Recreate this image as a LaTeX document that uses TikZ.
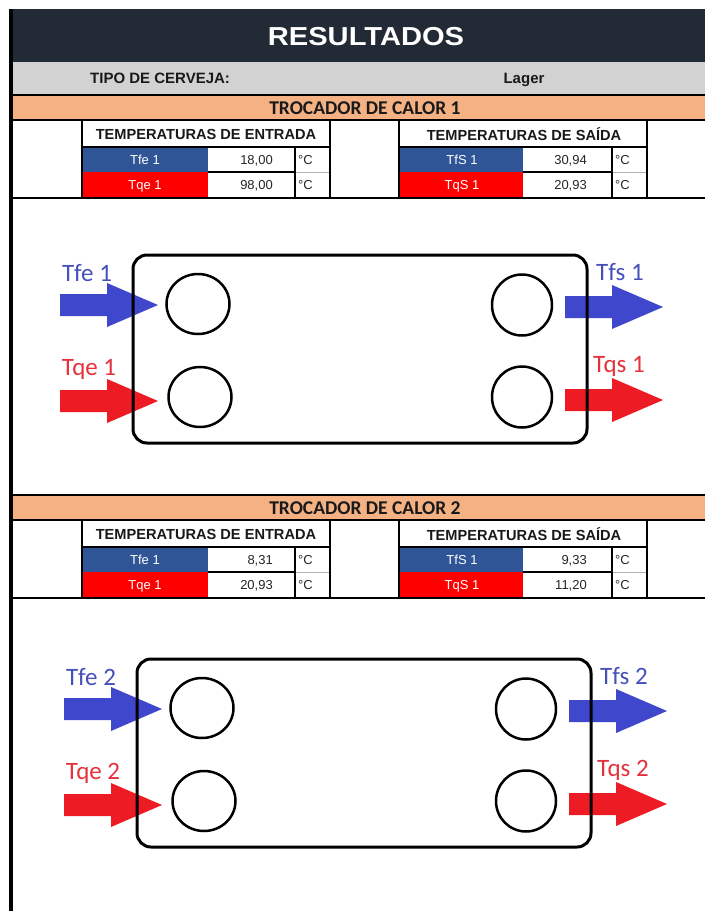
\documentclass[tikz,border=0pt]{standalone}
\usepackage{fontspec}
\setmainfont{Liberation Sans}
\newfontfamily\calib{Carlito}
\usepackage{graphicx}
\definecolor{darkband}{RGB}{34,42,53}
\definecolor{grayband}{RGB}{211,210,210}
\definecolor{orangeband}{RGB}{244,177,131}
\definecolor{cellblue}{RGB}{47,85,151}
\definecolor{cellred}{RGB}{255,0,0}
\definecolor{arrowblue}{RGB}{63,72,204}
\definecolor{arrowred}{RGB}{237,28,36}
\definecolor{lblblue}{RGB}{70,80,185}
\definecolor{lblred}{RGB}{228,50,60}
\tikzset{
  hdr/.style={font=\bfseries\fontsize{14.6}{15}\selectfont, inner sep=0, text=black!90},
  celltxt/.style={font=\fontsize{13}{13}\selectfont, inner sep=0, text=black!85, text height=9.3pt, text depth=0pt},
  flowlbl/.style={font=\calib\fontsize{25}{25}\selectfont, inner sep=0},
  sheetline/.style={line width=2pt, draw=black},
  thinline/.style={line width=0.6pt, draw=gray!60},
  plate/.style={line width=3pt, draw=black, rounded corners=14pt},
  port/.style={line width=2.5pt, draw=black},
}
% one results block: #1 y of orange band, #2 number, #3..#6 values
\newcommand\resblock[6]{%
  \begin{scope}[shift={(0,#1)}]
    \fill[orangeband] (11,0) rectangle (705,23);
    \draw[sheetline] (10,-1) -- (705,-1);
    \draw[sheetline] (10,24) -- (705,24);
    \draw[sheetline] (10,102) -- (705,102);
    \node[font=\calib\bfseries\fontsize{19.5}{20}\selectfont, inner sep=0, text=black!90] (troc#2) at (365,12) {TROCADOR DE CALOR #2};
    % left table
    \fill[cellblue] (82,51) rectangle (208,76);
    \fill[cellred] (82,76) rectangle (208,102);
    \draw[sheetline] (82,24) rectangle (330,102);
    \draw[sheetline] (82,51) -- (330,51);
    \draw[sheetline] (295,51) -- (295,102);
    \draw[sheetline] (208,76) -- (295,76);
    \draw[thinline] (296,76) -- (329,76);
    \node[hdr] (inh#2) at (206,38) {TEMPERATURAS DE ENTRADA};
    \node[celltxt, text=white] (tfel#2) at (145,63.5) {Tfe 1};
    \node[celltxt, text=white] (tqel#2) at (145,89) {Tqe 1};
    \node[celltxt, anchor=east] (tfev#2) at (273,63.5) {#3};
    \node[celltxt, anchor=east] (tqev#2) at (273,89) {#4};
    \node[celltxt, anchor=west] (tfeu#2) at (298,63.5) {°C};
    \node[celltxt, anchor=west] (tqeu#2) at (298,89) {°C};
    % right table
    \fill[cellblue] (399,51) rectangle (523,76);
    \fill[cellred] (399,76) rectangle (523,102);
    \draw[sheetline] (399,24) rectangle (647,102);
    \draw[sheetline] (399,51) -- (647,51);
    \draw[sheetline] (612,51) -- (612,102);
    \draw[sheetline] (523,76) -- (612,76);
    \draw[thinline] (613,76) -- (646,76);
    \node[hdr] (outh#2) at (524,38) {TEMPERATURAS DE SAÍDA};
    \node[celltxt, text=white] (tfsl#2) at (462,63.5) {TfS 1};
    \node[celltxt, text=white] (tqsl#2) at (462,89) {TqS 1};
    \node[celltxt, anchor=east] (tfsv#2) at (587,63.5) {#5};
    \node[celltxt, anchor=east] (tqsv#2) at (587,89) {#6};
    \node[celltxt, anchor=west] (tfsu#2) at (615,63.5) {°C};
    \node[celltxt, anchor=west] (tqsu#2) at (615,89) {°C};
  \end{scope}}
% flow arrow: #1 x start, #2 y centre, #3 colour
\newcommand\flowarrow[3]{%
  \fill[#3] (#1,#2) ++(0,-11) -- ++(47,0) -- ++(0,-11) -- ++(51,22) -- ++(-51,22) -- ++(0,-11) -- ++(-47,0) -- cycle;}
% heat exchanger drawing: #1 dx, #2 dy, #3 number
\newcommand\hxdiagram[3]{%
  \begin{scope}[shift={(#1,#2)}]
    \flowarrow{60}{305}{arrowblue}
    \flowarrow{60}{401}{arrowred}
    \flowarrow{565}{307}{arrowblue}
    \flowarrow{565}{400}{arrowred}
    \draw[plate] (133,255) rectangle (587,443);
    \draw[port] (198,304) ellipse [x radius=31.5pt, y radius=30pt];
    \draw[port] (200,397) ellipse [x radius=31.5pt, y radius=30pt];
    \draw[port] (522,305) ellipse [x radius=30pt, y radius=30.5pt];
    \draw[port] (522,397) ellipse [x radius=30pt, y radius=30.5pt];
    \node[flowlbl, text=lblblue] (lfe#3) at (87,273) {Tfe #3};
    \node[flowlbl, text=lblred] (lqe#3) at (89,369) {Tqe #3};
    \node[flowlbl, text=lblblue] (lfs#3) at (620,272) {Tfs #3};
    \node[flowlbl, text=lblred] (lqs#3) at (619,366) {Tqs #3};
  \end{scope}}
\begin{document}
\begin{tikzpicture}[x=1pt,y=-1pt]
  \useasboundingbox (0,0) rectangle (705,911);
  \fill[white] (0,0) rectangle (705,911);
  % header bands
  \fill[darkband] (10,9) rectangle (705,62);
  \node[font=\bfseries\fontsize{26}{26}\selectfont, text=white, inner sep=0] (title) at (366,37) {\scalebox{1.12}[1]{RESULTADOS}};
  \fill[grayband] (10,62) rectangle (705,94);
  \node[font=\bfseries\fontsize{15}{15}\selectfont, text=black!90, inner sep=0, anchor=base west] (tipo) at (90,83.5) {TIPO DE CERVEJA:};
  \node[font=\bfseries\fontsize{15}{15}\selectfont, text=black!90, inner sep=0, anchor=base] (lager) at (524,83.5) {Lager};
  % blocks
  \resblock{96}{1}{18,00}{98,00}{30,94}{20,93}
  \hxdiagram{0}{0}{1}
  \resblock{496}{2}{8,31}{20,93}{9,33}{11,20}
  \hxdiagram{4}{404}{2}
  % left border of the sheet
  \draw[line width=3.5pt] (11,9) -- (11,911);
\end{tikzpicture}
\end{document}
